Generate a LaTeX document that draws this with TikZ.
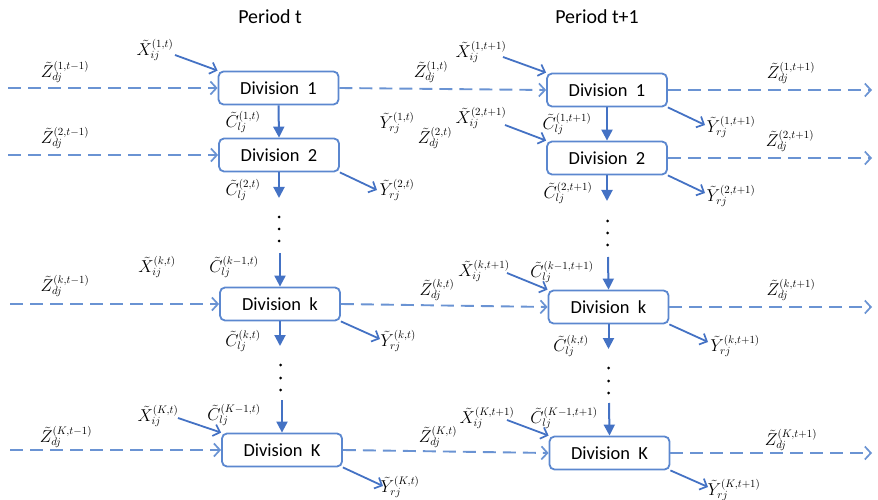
\documentclass[tikz,border=0pt]{standalone}
\usepackage{fontspec}
\setmainfont{Carlito}
\usetikzlibrary{arrows.meta}
\definecolor{dblue}{HTML}{4472C4}
\definecolor{bblue}{HTML}{5B87CF}
\definecolor{lblue}{HTML}{6A93D3}
\begin{document}
\begin{tikzpicture}[x=1bp,y=-1bp,
  div/.style={draw=bblue, line width=1.8bp, rounded corners=5bp, minimum width=120bp,
    minimum height=33bp, inner sep=0pt, fill=white, font=\fontsize{18.5}{20}\selectfont},
  ttl/.style={font=\fontsize{20}{22}\selectfont, inner sep=0pt},
  lab/.style={font=\fontsize{16}{18}\selectfont, inner sep=0pt},
  flow/.style={lblue, line width=1.9bp, dash pattern=on 13bp off 7bp,
    -{Straight Barb[length=6bp,width=13bp,line width=1.7bp]}},
  side/.style={dblue, line width=1.8bp, -{Straight Barb[length=6bp,width=12bp,line width=1.7bp]}},
  down/.style={dblue, line width=2bp, -{Triangle[length=11bp,width=11bp]}},
  dot/.style={fill=black}]
\useasboundingbox (0,0) rectangle (878,500);

% titles
\node[ttl] (pt) at (270,17) {Period t};
\node[ttl] (pt1) at (597,17) {Period t+1};

% boxes
\node[div] (A1) at (278.5,88) {Division~~1};
\node[div] (A2) at (279,155) {Division~~2};
\node[div] (Ak) at (280,304) {Division~~k};
\node[div] (AK) at (282,450) {Division~~K};
\node[div] (B1) at (607,90) {Division~~1};
\node[div] (B2) at (607,158) {Division~~2};
\node[div] (Bk) at (608.5,307) {Division~~k};
\node[div] (BK) at (609.5,453) {Division~~K};

% free ends
\coordinate (l1) at (8,88);
\coordinate (l2) at (8,155);
\coordinate (lk) at (10,304);
\coordinate (lK) at (10,450);
\coordinate (r1) at (872,90);
\coordinate (r2) at (872,158);
\coordinate (rk) at (872,307);
\coordinate (rK) at (872,453);

% dashed flows
\draw[flow] (l1) -- (A1.west);
\draw[flow] (l2) -- (A2.west);
\draw[flow] (lk) -- (Ak.west);
\draw[flow] (lK) -- (AK.west);
\draw[flow] (A1.east) -- (B1.west);
\draw[flow] (Ak.east) -- (Bk.west);
\draw[flow] (AK.east) -- (BK.west);
\draw[flow] (B1.east) -- (r1);
\draw[flow] (B2.east) -- (r2);
\draw[flow] (Bk.east) -- (rk);
\draw[flow] (BK.east) -- (rK);

% vertical flows, left
\coordinate (a2e) at (279,198);
\coordinate (aks) at (280,253);
\coordinate (ake) at (280,346);
\coordinate (aKs) at (282,400);
\draw[down] (A1.south) -- (A2.north);
\draw[down] (A2.south) -- (a2e);
\draw[down] (aks) -- (Ak.north);
\draw[down] (Ak.south) -- (ake);
\draw[down] (aKs) -- (AK.north);
\foreach \yy in {217,229,241} \fill[dot] (279,\yy) circle (1.5bp);
\foreach \yy in {365,378,390} \fill[dot] (280.5,\yy) circle (1.5bp);

% vertical flows, right
\coordinate (b2e) at (607,201);
\coordinate (bks) at (608,257);
\coordinate (bke) at (608.5,349);
\coordinate (bKs) at (609,403);
\draw[down] (B1.south) -- (B2.north);
\draw[down] (B2.south) -- (b2e);
\draw[down] (bks) -- (Bk.north);
\draw[down] (Bk.south) -- (bke);
\draw[down] (bKs) -- (BK.north);
\foreach \yy in {221,233,245} \fill[dot] (607.5,\yy) circle (1.5bp);
\foreach \yy in {368,381,393} \fill[dot] (608.5,\yy) circle (1.5bp);

% inputs X
\coordinate (xa1) at (175,55);
\coordinate (xaK) at (178,418);
\coordinate (xb1) at (503,57);
\coordinate (xb2) at (505,125);
\coordinate (xbk) at (507,273);
\coordinate (xbK) at (507,420);
\draw[side] (xa1) -- (A1.north west);
\draw[side] (xaK) -- (AK.north west);
\draw[side] (xb1) -- (B1.north west);
\draw[side] (xb2) -- (B2.north west);
\draw[side] (xbk) -- (Bk.north west);
\draw[side] (xbK) -- (BK.north west);

% outputs Y
\coordinate (ya2) at (377,190);
\coordinate (yak) at (380,339);
\coordinate (yaK) at (383,486);
\coordinate (yb1) at (705,125);
\coordinate (yb2) at (705,193);
\coordinate (ybk) at (708,342);
\coordinate (ybK) at (708,487);
\draw[side] (A2.south east) -- (ya2);
\draw[side] (Ak.south east) -- (yak);
\draw[side] (AK.south east) -- (yaK);
\draw[side] (B1.south east) -- (yb1);
\draw[side] (B2.south east) -- (yb2);
\draw[side] (Bk.south east) -- (ybk);
\draw[side] (BK.south east) -- (ybK);

% labels, left
\node[lab] (zl1) at (65,72) {$\tilde Z_{dj}^{(1,t-1)}$};
\node[lab] (xl1) at (155,50) {$\tilde X_{ij}^{(1,t)}$};
\node[lab] (cl1) at (243,122) {$\tilde C_{lj}^{(1,t)}$};
\node[lab] (zl2) at (65,138) {$\tilde Z_{dj}^{(2,t-1)}$};
\node[lab] (cl2) at (243,190) {$\tilde C_{lj}^{(2,t)}$};
\node[lab] (yl2) at (397,190) {$\tilde Y_{rj}^{(2,t)}$};
\node[lab] (yl1) at (397,123) {$\tilde Y_{rj}^{(1,t)}$};
\node[lab] (zlk) at (65,286) {$\tilde Z_{dj}^{(k,t-1)}$};
\node[lab] (xlk) at (157,267) {$\tilde X_{ij}^{(k,t)}$};
\node[lab] (clk0) at (234,267) {$\tilde C_{lj}^{(k-1,t)}$};
\node[lab] (clk) at (243,341) {$\tilde C_{lj}^{(k,t)}$};
\node[lab] (ylk) at (398,341) {$\tilde Y_{rj}^{(k,t)}$};
\node[lab] (zlK) at (66,437) {$\tilde Z_{dj}^{(K,t-1)}$};
\node[lab] (xlK) at (158,416) {$\tilde X_{ij}^{(K,t)}$};
\node[lab] (clK0) at (234,415) {$\tilde C_{lj}^{(K-1,t)}$};
\node[lab] (ylK) at (400,487) {$\tilde Y_{rj}^{(K,t)}$};

% labels, middle
\node[lab] (zm1) at (431,72) {$\tilde Z_{dj}^{(1,t)}$};
\node[lab] (zm2) at (435,138) {$\tilde Z_{dj}^{(2,t)}$};
\node[lab] (zmk) at (437,290) {$\tilde Z_{dj}^{(k,t)}$};
\node[lab] (zmK) at (438,437) {$\tilde Z_{dj}^{(K,t)}$};

% labels, right
\node[lab] (xr1) at (481,52) {$\tilde X_{ij}^{(1,t+1)}$};
\node[lab] (xr2) at (481,118) {$\tilde X_{ij}^{(2,t+1)}$};
\node[lab] (cr1) at (567,124) {$\tilde C_{lj}^{(1,t+1)}$};
\node[lab] (yr1) at (731,127) {$\tilde Y_{rj}^{(1,t+1)}$};
\node[lab] (zr1) at (791,73) {$\tilde Z_{dj}^{(1,t+1)}$};
\node[lab] (zr2) at (790,141) {$\tilde Z_{dj}^{(2,t+1)}$};
\node[lab] (cr2) at (568,193) {$\tilde C_{lj}^{(2,t+1)}$};
\node[lab] (yr2) at (731,196) {$\tilde Y_{rj}^{(2,t+1)}$};
\node[lab] (xrk) at (484,271) {$\tilde X_{ij}^{(k,t+1)}$};
\node[lab] (crk0) at (562,272) {$\tilde C_{lj}^{(k-1,t+1)}$};
\node[lab] (zrk) at (791,290) {$\tilde Z_{dj}^{(k,t+1)}$};
\node[lab] (crk) at (571,346) {$\tilde C_{lj}^{(k,t)}$};
\node[lab] (yrk) at (735,346) {$\tilde Y_{rj}^{(k,t+1)}$};
\node[lab] (xrK) at (487,418) {$\tilde X_{ij}^{(K,t+1)}$};
\node[lab] (crK0) at (564,418) {$\tilde C_{lj}^{(K-1,t+1)}$};
\node[lab] (zrK) at (791,440) {$\tilde Z_{dj}^{(K,t+1)}$};
\node[lab] (yrK) at (734,490) {$\tilde Y_{rj}^{(K,t+1)}$};
\end{tikzpicture}
\end{document}
